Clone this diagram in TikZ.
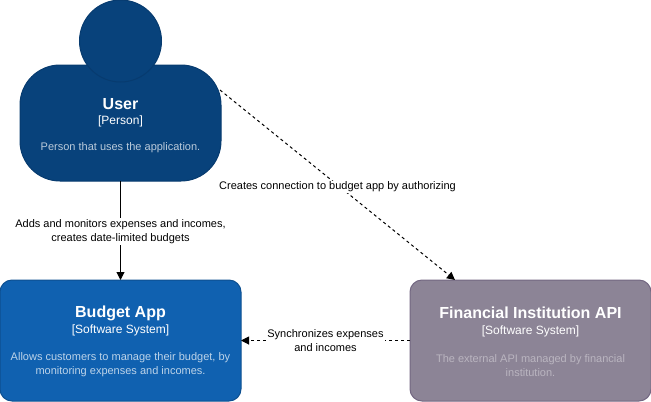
\documentclass[tikz,border=0pt]{standalone}
\usepackage{fontspec}
\setmainfont{Liberation Sans}
\usepackage{xcolor}
\usetikzlibrary{positioning,arrows.meta}

\definecolor{userblue}{HTML}{08427B}
\definecolor{userline}{HTML}{073B6F}
\definecolor{appblue}{HTML}{1061B0}
\definecolor{appline}{HTML}{0D5091}
\definecolor{extgrey}{HTML}{8C8496}
\definecolor{extline}{HTML}{736782}

\newcommand{\boxtitle}[2][10.1pt]{{\fontsize{12}{14}\selectfont\bfseries\rule{0pt}{#1}#2}}
\newcommand{\boxkind}[1]{{\fontsize{9}{11}\selectfont #1}}

\begin{document}
\begin{tikzpicture}[
  x=0.75pt, y=-0.75pt,
  sysbox/.style={rectangle, rounded corners=9pt, line width=0.75pt, minimum width=180.75pt, minimum height=90.75pt, inner sep=0pt, outer sep=0pt, align=center, text=white, font=\fontsize{8.25}{12}\selectfont},
  userbox/.style={sysbox, rounded corners=30pt, draw=userline, fill=userblue, minimum width=150.75pt, minimum height=87pt},
  userhead/.style={circle, draw=userline, fill=userblue, line width=0.75pt, minimum size=61.5pt, inner sep=0pt, outer sep=0pt},
  arr/.style={-{Triangle[length=6pt,width=6pt]}, line width=0.75pt, black},
  dasharr/.style={arr, dash pattern=on 2.25pt off 2.25pt},
  lbl/.style={fill=white, inner sep=1pt, align=center, text=black, font=\fontsize{8.25}{10.5}\selectfont}
]
\useasboundingbox (0,0) rectangle (651,401);

\node[sysbox, draw=appline, fill=appblue] (budget) at (120.5,340.5) {\boxtitle{Budget App}\\[0pt]\boxkind{[Software System]}\\[8.75pt]\textcolor{white!72!appblue}{Allows customers to manage their budget, by}\\[-1.5pt]\textcolor{white!72!appblue}{monitoring expenses and incomes.}};
\node[sysbox, draw=extline, fill=extgrey, right=126.75pt of budget] (bank) {\boxtitle{Financial Institution API}\\[0pt]\boxkind{[Software System]}\\[8.75pt]\textcolor{white!40!extgrey}{The external API managed by financial}\\[-1.5pt]\textcolor{white!40!extgrey}{institution.}};
\node[userbox, above=74.25pt of budget] (user) {\boxtitle[12.6pt]{User}\\[-1pt]\boxkind{[Person]}\\[8pt]\textcolor{white!72!userblue}{Person that uses the application.}};
\node[userhead, above=-12.75pt of user] (head) {};

\draw[arr] (user) -- node[lbl, yshift=-0.75pt] {Adds and monitors expenses and incomes,\\creates date-limited budgets} (budget);
\draw[dasharr] ([xshift=-0.75pt,yshift=-18.75pt]user.north east) -- node[lbl, yshift=-1.5pt] {Creates connection to budget app by authorizing} ([xshift=33.75pt]bank.north west);
\draw[dasharr] (bank) -- node[lbl, yshift=-0.4pt] {Synchronizes expenses\\and incomes} (budget);
\end{tikzpicture}
\end{document}
